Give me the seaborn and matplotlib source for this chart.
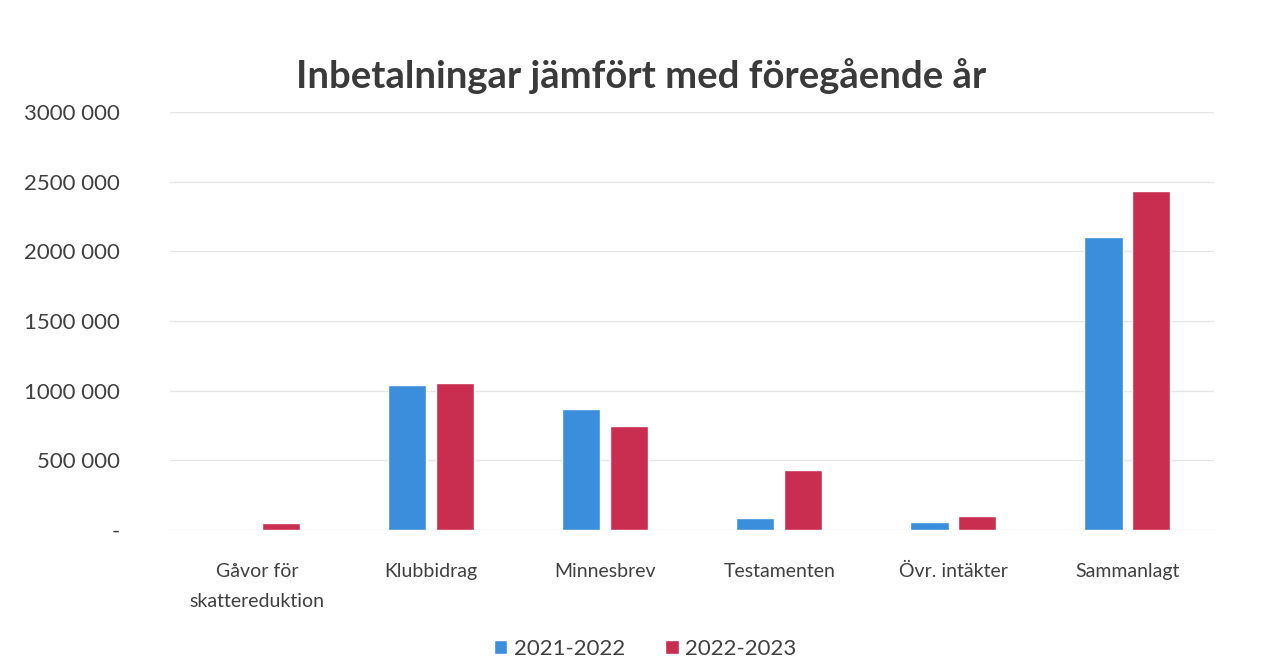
"""Inbetalningar jämfört med föregående år - grouped bar chart."""

import pandas as pd
import matplotlib
matplotlib.use("Agg")
import matplotlib.pyplot as plt
import seaborn as sns

CATEGORIES = ["Gåvor för\nskattereduktion", "Klubbidrag", "Minnesbrev",
              "Testamenten", "Övr. intäkter", "Sammanlagt"]
PERIODS = ["2021-2022", "2022-2023"]
VALUES_2122 = [0, 1040000, 869000, 84000, 53000, 2100000]
VALUES_2223 = [48000, 1052000, 745000, 430000, 96000, 2430000]
Y_TICKS = [0, 500000, 1000000, 1500000, 2000000, 2500000, 3000000]
Y_LABELS = ["-", "500 000", "1000 000", "1500 000", "2000 000", "2500 000", "3000 000"]
COLORS = ["#3A8EDB", "#C92E50"]

df = pd.DataFrame({
    "Kategori": CATEGORIES * 2,
    "Period": [PERIODS[0]] * len(CATEGORIES) + [PERIODS[1]] * len(CATEGORIES),
    "Belopp": VALUES_2122 + VALUES_2223,
})

sns.set_style("white")
plt.rcParams["font.family"] = ["Lato", "DejaVu Sans"]

fig = plt.figure(figsize=(12.69, 6.59), dpi=100)
ax = fig.add_axes([0.134, 0.196, 0.823, 0.634])

sns.barplot(data=df, x="Kategori", y="Belopp", hue="Period", palette=COLORS,
            width=0.55, gap=0.2, ax=ax, saturation=1)

ax.set_ylim(0, 3000000)
ax.set_yticks(Y_TICKS)
ax.set_yticklabels(Y_LABELS, fontsize=16, color="#404040")
ax.tick_params(axis="y", length=0, pad=36)
ax.tick_params(axis="x", length=0, pad=24, labelsize=14, labelcolor="#404040")
for lbl in ax.get_xticklabels():
    lbl.set_linespacing(1.9)
ax.yaxis.grid(True, color="#e6e6e6", linewidth=1)
ax.set_axisbelow(True)
ax.set_xlabel("")
ax.set_ylabel("")
sns.despine(ax=ax, left=True, bottom=True)

ax.legend(loc="center", bbox_to_anchor=(0.455, -0.285), ncol=2, frameon=False,
          fontsize=16, handlelength=0.6, handleheight=0.6, columnspacing=1.8,
          handletextpad=0.3, labelcolor="#404040")

fig.text(0.505, 0.885, "Inbetalningar jämfört med föregående år",
         ha="center", va="center", fontsize=27.5, fontweight="bold", color="#3a3a3a")

plt.savefig("out.png", dpi=100)
plt.close()
